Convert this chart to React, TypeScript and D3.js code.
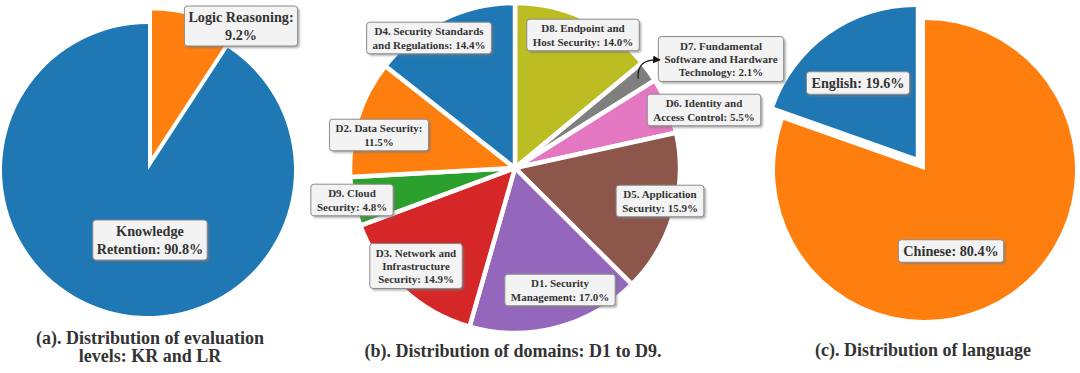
import React, { useEffect, useRef } from 'react';
import * as d3 from 'd3';

// (a) evaluation levels, clockwise from 12 o'clock
const levelLines = [['Logic Reasoning:', ''], ['Knowledge', 'Retention: ']];
const levelValues = [9.2, 90.8];
const levelColors = ['#ff7f0e', '#1f77b4'];

// (b) domains, clockwise from 12 o'clock
const domainLines = [
  ['D8. Endpoint and', 'Host Security: '],
  ['D7. Fundamental', 'Software and Hardware', 'Technology: '],
  ['D6. Identity and', 'Access Control: '],
  ['D5. Application', 'Security: '],
  ['D1. Security', 'Management: '],
  ['D3. Network and', 'Infrastructure', 'Security: '],
  ['D9. Cloud', 'Security: '],
  ['D2. Data Security:', ''],
  ['D4. Security Standards', 'and Regulations: '],
];
const domainValues = [14.0, 2.1, 5.5, 15.9, 17.0, 14.9, 4.8, 11.5, 14.4];
const domainColors = ['#bcbd22', '#7f7f7f', '#e377c2', '#8c564b', '#9467bd', '#d62728', '#2ca02c', '#ff7f0e', '#1f77b4'];

// (c) language, English sits left of 12 o'clock
const languageLines = [['English: '], ['Chinese: ']];
const languageValues = [19.6, 80.4];
const languageColors = ['#1f77b4', '#ff7f0e'];

const titles = [
  ['(a). Distribution of evaluation', 'levels: KR and LR'],
  ['(b). Distribution of domains: D1 to D9.'],
  ['(c). Distribution of language'],
];

const FONT = "'Liberation Serif', 'Times New Roman', 'DejaVu Serif', serif";

export default function App() {
  const ref = useRef<SVGSVGElement>(null);

  useEffect(() => {
    const svg = d3.select(ref.current);
    svg.selectAll('*').remove();

    const defs = svg.append('defs');
    defs.append('filter').attr('id', 'blur').append('feGaussianBlur').attr('stdDeviation', 1.2);
    defs.append('marker')
      .attr('id', 'arrow').attr('viewBox', '0 0 10 10').attr('refX', 9).attr('refY', 5)
      .attr('markerWidth', 7).attr('markerHeight', 7).attr('orient', 'auto')
      .append('path').attr('d', 'M0,0 L10,5 L0,10 z').attr('fill', '#111');

    // label box with shadow, sized from its text
    const labelBox = (g: any, x: number, y: number, lines: string[], size: number, lh: number, px: number) => {
      const box = g.append('g').attr('transform', `translate(${x},${y})`);
      const shadow = box.append('rect');
      const rect = box.append('rect');
      const text = box.append('text')
        .attr('text-anchor', 'middle')
        .attr('font-family', FONT).attr('font-weight', 'bold')
        .attr('font-size', size).attr('fill', '#333');
      const n = lines.length;
      lines.forEach((l, i) => {
        text.append('tspan').attr('x', 0)
          .attr('y', (i - (n - 1) / 2) * lh + size * 0.35).text(l);
      });
      const bb = (text.node() as SVGTextElement).getBBox();
      const py = 2.5;
      const w = bb.width + px * 2, h = n * lh + py * 2;
      rect.attr('x', -w / 2).attr('y', -h / 2).attr('width', w).attr('height', h)
        .attr('rx', 3).attr('fill', '#f3f3f3').attr('stroke', '#8a8a8a').attr('stroke-width', 1);
      shadow.attr('x', -w / 2 + 2).attr('y', -h / 2 + 2).attr('width', w).attr('height', h)
        .attr('rx', 3).attr('fill', '#777').attr('opacity', 0.6).attr('filter', 'url(#blur)');
    };

    const drawPie = (opts: any) => {
      const { cx, cy, r, values, colors, lines, explode, start, stroke, labelPos, size, lh, px } = opts;
      const total = d3.sum(values);
      const pie = d3.pie<number>().sort(null).value((d) => d)
        .startAngle(start).endAngle(start + 2 * Math.PI);
      const arcs = pie(values);
      const arc = d3.arc<any>().innerRadius(0).outerRadius(r);
      const g = svg.append('g').attr('transform', `translate(${cx},${cy})`);
      arcs.forEach((a, i) => {
        const mid = (a.startAngle + a.endAngle) / 2;
        const e = explode[i];
        g.append('path')
          .attr('d', arc(a))
          .attr('transform', `translate(${Math.sin(mid) * e},${-Math.cos(mid) * e})`)
          .attr('fill', colors[i])
          .attr('stroke', stroke ? '#fff' : 'none')
          .attr('stroke-width', stroke);
      });
      const lg = svg.append('g').attr('transform', `translate(${cx},${cy})`);
      arcs.forEach((a, i) => {
        const ls = lines[i].slice();
        ls[ls.length - 1] = ls[ls.length - 1] + `${((values[i] / total) * 100).toFixed(1)}%`;
        labelBox(lg, labelPos[i][0], labelPos[i][1], ls, size, lh, px);
      });
      return { arcs };
    };

    drawPie({
      cx: 148, cy: 170, r: 146, values: levelValues, colors: levelColors, lines: levelLines,
      explode: [14, 0], start: 0, stroke: 0,
      labelPos: [[93, -144], [2, 70]], size: 14.2, lh: 17.5, px: 4,
    });

    const b = drawPie({
      cx: 515, cy: 168, r: 165, values: domainValues, colors: domainColors, lines: domainLines,
      explode: domainValues.map(() => 0), start: 0, stroke: 4.5,
      labelPos: [[68, -133], [206, -109], [189, -58], [145, 33], [45, 122], [-99, 98], [-163, 32], [-136, -33], [-86, -130]],
      size: 11, lh: 13.3, px: 6,
    });

    // arrow to the D7 box
    const a7 = b.arcs[1];
    const m7 = (a7.startAngle + a7.endAngle) / 2;
    const sx = 515 + Math.sin(m7) * 152, sy = 168 - Math.cos(m7) * 152;
    const ex = 660, ey = 60;
    svg.append('path')
      .attr('d', `M${sx},${sy} Q${sx - 2},${ey - 2} ${ex},${ey}`)
      .attr('fill', 'none').attr('stroke', '#111').attr('stroke-width', 1.1)
      .attr('marker-end', 'url(#arrow)');

    const engShare = languageValues[0] / d3.sum(languageValues);
    drawPie({
      cx: 925, cy: 170, r: 150, values: languageValues, colors: languageColors, lines: languageLines,
      explode: [16, 0], start: -engShare * 2 * Math.PI, stroke: 0,
      labelPos: [[-67, -87], [26, 81]], size: 14.2, lh: 17.5, px: 5,
    });

    // panel titles
    const titleX = [150, 513, 923];
    const titleY = [344, 357, 356];
    titles.forEach((t, k) => {
      const tx = svg.append('text').attr('text-anchor', 'middle')
        .attr('font-family', FONT).attr('font-weight', 'bold').attr('font-size', 18)
        .attr('fill', '#333');
      t.forEach((l, i) => tx.append('tspan').attr('x', titleX[k]).attr('y', titleY[k] + i * 18).text(l));
    });
  }, []);

  return (
    <svg ref={ref} width={1080} height={373}
      style={{ position: 'absolute', left: 0, top: 0, background: '#fff', display: 'block' }} />
  );
}
